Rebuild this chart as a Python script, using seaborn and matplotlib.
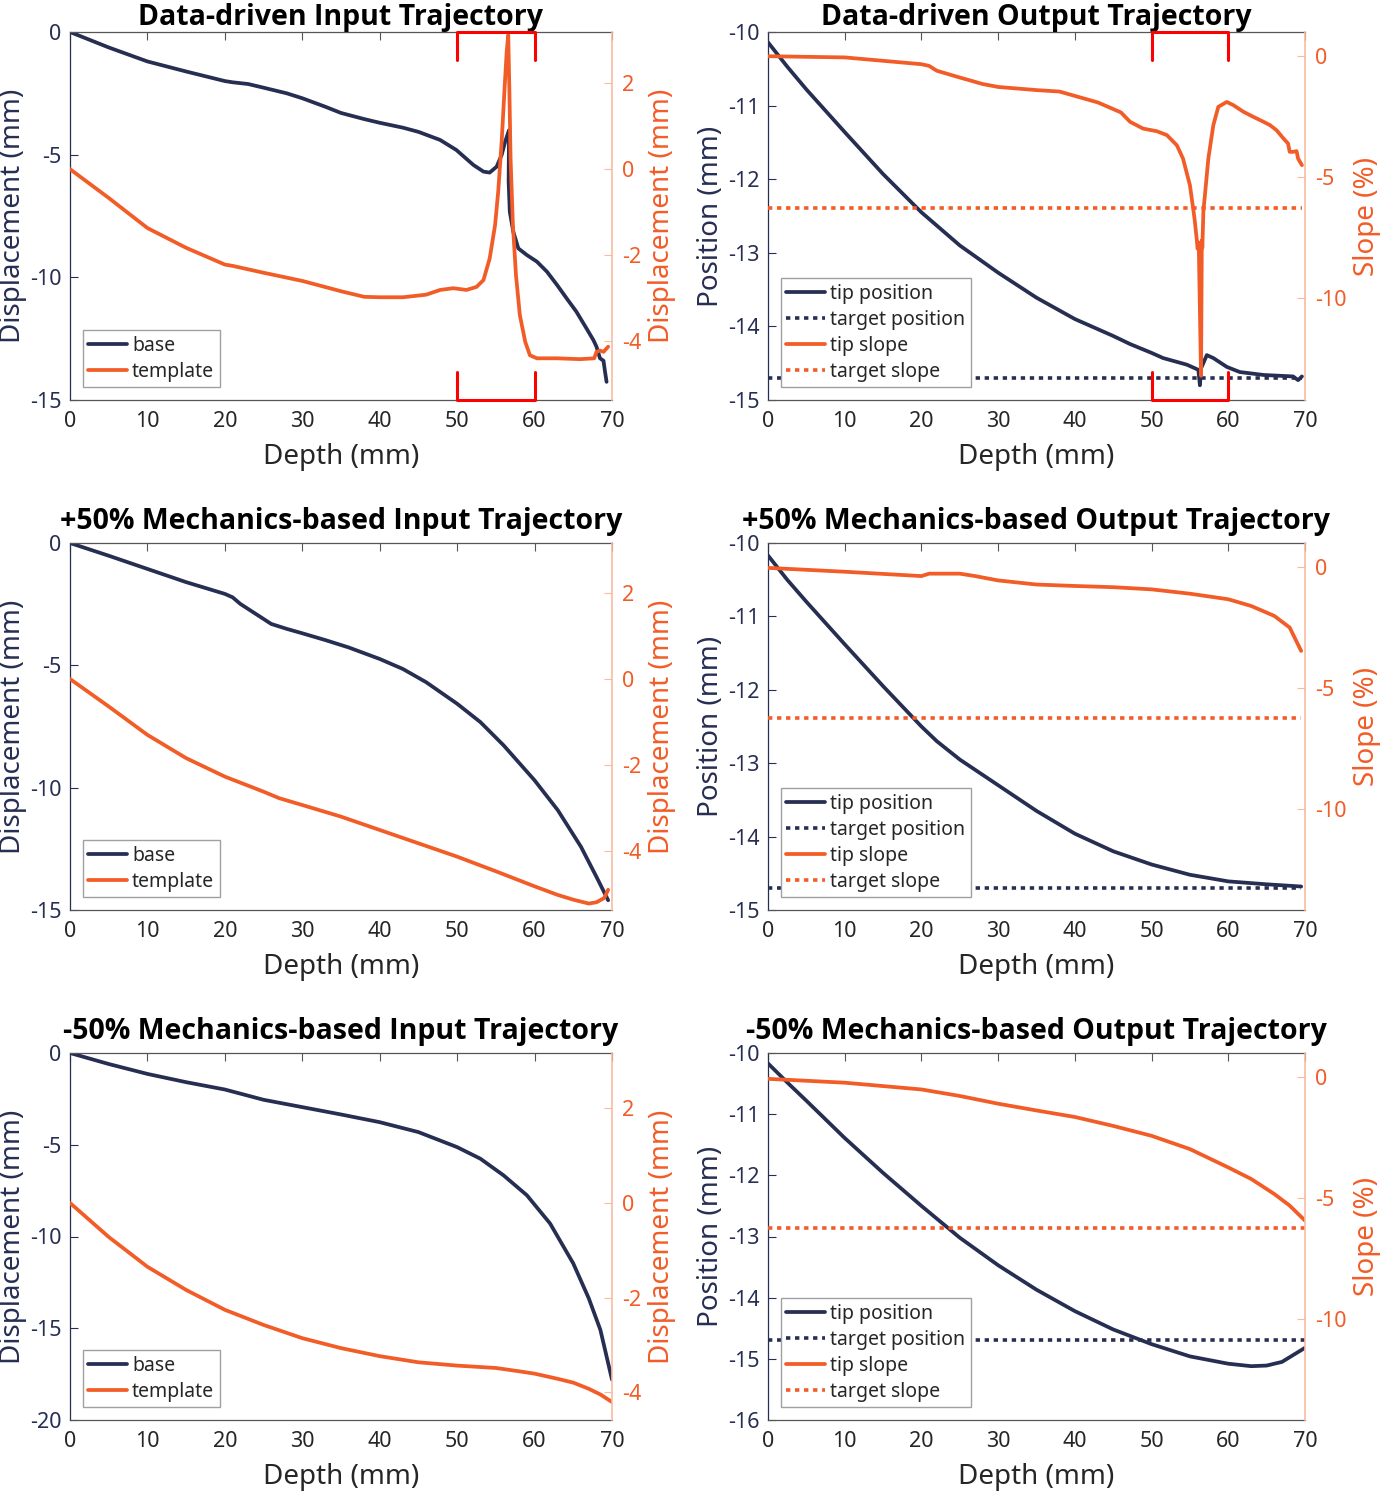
import numpy as np
import matplotlib
matplotlib.use('Agg')
import matplotlib.pyplot as plt
import matplotlib.transforms as mtransforms
from matplotlib import font_manager
import seaborn as sns

# ---- data: data-driven input trajectory ----
dd_in_base_x = [0, 5, 10, 15, 20, 21, 23, 25, 28, 30, 33, 35, 38, 40, 43, 45, 47.8, 49.9,
                52.1, 53.4, 54.2, 55.1, 55.75, 56.2, 56.7, 56.65, 56.8, 57.25, 57.9, 59.0,
                60.3, 61.6, 62.9, 64.15, 65.4, 66.7, 67.6, 68.0, 68.45, 68.9, 69.1, 69.3]
dd_in_base = [0, -0.63, -1.2, -1.61, -2.0, -2.05, -2.12, -2.27, -2.5, -2.7, -3.05, -3.3,
              -3.55, -3.7, -3.9, -4.07, -4.4, -4.81, -5.42, -5.69, -5.73, -5.49, -5.01,
              -4.47, -4.0, -6.1, -7.33, -8.14, -8.82, -9.09, -9.36, -9.77, -10.31, -10.86,
              -11.4, -12.08, -12.56, -12.83, -13.3, -13.4, -13.85, -14.26]
dd_in_tmpl_x = [0, 5, 10, 15, 20, 21, 25, 30, 35, 38, 40, 43, 46, 47.8, 49.5, 51.2, 52.5,
                53.4, 54.2, 54.9, 55.3, 55.75, 56.1, 56.4, 56.6, 56.75, 56.9, 57.2, 57.6,
                58.1, 58.8, 59.4, 60.3, 62.9, 65.9, 67.7, 68.0, 68.45, 68.9, 69.5]
dd_in_tmpl = [0, -0.67, -1.37, -1.83, -2.22, -2.25, -2.41, -2.6, -2.84, -2.97, -2.98, -2.98,
              -2.92, -2.81, -2.77, -2.81, -2.74, -2.58, -2.08, -1.3, -0.53, 0.64, 1.8, 2.73,
              3.12, 1.8, 0.25, -1.3, -2.47, -3.4, -4.02, -4.33, -4.4, -4.4, -4.42, -4.4,
              -4.25, -4.22, -4.25, -4.13]

# ---- data: data-driven output trajectory ----
dd_out_pos_x = [0, 2.5, 5, 10, 15, 20, 25, 30, 35, 40, 45, 47.2, 50, 51.5, 54.6, 56.1, 56.3,
                56.45, 57.2, 58.05, 59.8, 61.5, 64.6, 68.45, 69.1, 69.6]
dd_out_pos = [-10.14, -10.47, -10.78, -11.36, -11.93, -12.45, -12.9, -13.27, -13.61, -13.9,
              -14.13, -14.24, -14.36, -14.43, -14.52, -14.59, -14.8, -14.57, -14.39, -14.43,
              -14.55, -14.62, -14.66, -14.68, -14.73, -14.68]
dd_out_slope_x = [0, 10, 20, 21, 22, 25, 28, 30, 35, 38, 40, 43, 46, 47.2, 48.9, 50.7, 52.0,
                  53.3, 54.1, 55.0, 55.6, 55.9, 56.0, 56.15, 56.3, 56.45, 56.55, 56.62, 56.75,
                  57.4, 58.05, 58.7, 59.8, 60.65, 62.0, 63.3, 64.6, 65.45, 66.3, 67.2, 67.8,
                  68.0, 68.45, 68.9, 69.1, 69.6]
dd_out_slope = [0, -0.05, -0.33, -0.4, -0.6, -0.88, -1.15, -1.27, -1.4, -1.46, -1.64, -1.91,
                -2.32, -2.71, -2.99, -3.1, -3.26, -3.68, -4.23, -5.33, -6.71, -7.6, -7.95,
                -7.7, -10.5, -13.2, -7.6, -7.9, -6.43, -4.23, -2.85, -2.09, -1.89, -2.02,
                -2.3, -2.51, -2.71, -2.85, -3.06, -3.4, -3.61, -3.95, -3.95, -3.92, -4.23, -4.5]

# ---- data: +50% mechanics-based ----
p50_in_base_x = [0, 5, 10, 15, 20, 21, 22, 24, 26, 28, 30, 33, 36, 40, 43, 46, 50, 53, 56,
                 60, 63, 66, 68, 69.5]
p50_in_base = [0, -0.52, -1.06, -1.6, -2.08, -2.22, -2.49, -2.9, -3.31, -3.51, -3.69, -3.97,
               -4.27, -4.74, -5.15, -5.69, -6.57, -7.32, -8.27, -9.7, -10.92, -12.42, -13.65,
               -14.6]
p50_in_tmpl_x = [0, 5, 10, 15, 20, 25, 27, 30, 35, 40, 45, 50, 55, 60, 63, 65, 67, 68, 69, 69.5]
p50_in_tmpl = [0, -0.64, -1.3, -1.84, -2.27, -2.62, -2.77, -2.93, -3.2, -3.51, -3.82, -4.13,
               -4.47, -4.82, -5.02, -5.13, -5.22, -5.19, -5.09, -4.9]
p50_out_pos_x = [0, 2.5, 5, 10, 15, 20, 22, 25, 30, 35, 40, 45, 50, 55, 60, 65, 69.5]
p50_out_pos = [-10.17, -10.5, -10.8, -11.38, -11.95, -12.5, -12.7, -12.95, -13.3, -13.65,
               -13.96, -14.2, -14.38, -14.52, -14.61, -14.65, -14.68]
p50_out_slope_x = [0, 10, 20, 21, 25, 27, 30, 35, 40, 45, 50, 55, 60, 63, 66, 68, 69.5]
p50_out_slope = [-0.03, -0.19, -0.37, -0.27, -0.27, -0.37, -0.55, -0.72, -0.78, -0.83, -0.92,
                 -1.1, -1.33, -1.61, -2.02, -2.5, -3.47]

# ---- data: -50% mechanics-based ----
m50_in_base_x = [0, 5, 10, 15, 20, 25, 30, 35, 40, 45, 50, 53, 56, 59, 62, 65, 67, 68.5, 70]
m50_in_base = [0, -0.6, -1.14, -1.59, -1.99, -2.55, -2.95, -3.35, -3.77, -4.31, -5.13, -5.76,
               -6.67, -7.75, -9.29, -11.47, -13.37, -15.09, -17.8]
m50_in_tmpl_x = [0, 5, 10, 15, 20, 25, 30, 35, 40, 45, 50, 55, 58, 60, 63, 65, 67, 68.5, 70]
m50_in_tmpl = [0, -0.72, -1.35, -1.84, -2.26, -2.58, -2.86, -3.07, -3.24, -3.37, -3.44, -3.49,
               -3.56, -3.61, -3.72, -3.8, -3.93, -4.05, -4.21]
m50_out_pos_x = [0, 2.5, 5, 10, 15, 20, 25, 30, 35, 40, 45, 50, 55, 60, 63, 65, 67, 70]
m50_out_pos = [-10.17, -10.48, -10.78, -11.39, -11.96, -12.5, -13.02, -13.47, -13.87, -14.22,
               -14.52, -14.76, -14.96, -15.08, -15.12, -15.11, -15.05, -14.82]
m50_out_slope_x = [0, 10, 20, 25, 30, 35, 40, 45, 50, 55, 60, 63, 66, 68, 70]
m50_out_slope = [-0.07, -0.23, -0.51, -0.78, -1.1, -1.38, -1.65, -2.02, -2.43, -2.98, -3.74,
                 -4.22, -4.84, -5.32, -5.94]

target_position = -14.7
target_slope = -6.25
bracket_range = [50, 60]

titles = ['Data-driven Input Trajectory', 'Data-driven Output Trajectory',
          '+50% Mechanics-based Input Trajectory', '+50% Mechanics-based Output Trajectory',
          '-50% Mechanics-based Input Trajectory', '-50% Mechanics-based Output Trajectory']

NAVY = '#262e52'
ORANGE = '#f25c27'
LIGHT = '#f8bba2'
DARK = '#262626'

sns.set_theme(style='white')
plt.rcParams['font.family'] = ['Noto Sans', 'DejaVu Sans']
plt.rcParams['axes.unicode_minus'] = False

# pick a family that really has a bold face for the titles
title_family = 'DejaVu Sans'
for fam in ['Noto Sans', 'Open Sans', 'Lato', 'Roboto']:
    path = font_manager.findfont(font_manager.FontProperties(family=fam, weight='bold'),
                                 fallback_to_default=False)
    if 'bold' in path.lower():
        title_family = fam
        break

fig = plt.figure(figsize=(13.82, 14.93), dpi=100)

col_left = [70 / 1382, 768 / 1382]
col_w = [542 / 1382, 537 / 1382]
row_top = [32, 543, 1053]
row_bot = [400, 910, 1420]
title_pad = [4, 10, 10]


def make_axes(r, c):
    b = 1 - row_bot[r] / 1493
    h = (row_bot[r] - row_top[r]) / 1493
    ax = fig.add_axes([col_left[c], b, col_w[c], h])
    ax2 = ax.twinx()
    return ax, ax2


def style(ax, ax2, ylim, ylim2, yticks, yticks2, left_label, right_label, title, tpad):
    ax.set_xlim(0, 70)
    ax.set_xticks(range(0, 71, 10))
    ax.set_ylim(*ylim)
    ax.set_yticks(yticks)
    ax2.set_ylim(*ylim2)
    ax2.set_yticks(yticks2)
    ax.tick_params(axis='x', direction='in', top=True, length=6, width=0.8,
                   colors='#555555', labelcolor=DARK, labelsize=15.5, pad=8)
    ax.tick_params(axis='y', direction='in', length=6, width=0.8, colors=NAVY,
                   labelsize=15.5, pad=6)
    ax2.tick_params(axis='y', direction='in', length=6, width=0.8, colors=LIGHT,
                    labelcolor=ORANGE, labelsize=15.5, pad=7)
    ax.set_xlabel('Depth (mm)', fontsize=20, color=DARK, labelpad=8)
    ax.set_ylabel(left_label, fontsize=20, color=NAVY, labelpad=2)
    ax2.set_ylabel(right_label, fontsize=20, color=ORANGE, labelpad=5)
    ax.set_title(title, fontsize=20.5, fontweight='bold', family=title_family,
                 color='black', pad=tpad)
    for s in ['top', 'bottom']:
        ax.spines[s].set_color('#555555')
        ax.spines[s].set_linewidth(0.9)
    ax.spines['left'].set_color(NAVY)
    ax.spines['left'].set_linewidth(0.9)
    ax.spines['right'].set_visible(False)
    for s in ['top', 'bottom', 'left']:
        ax2.spines[s].set_visible(False)
    ax2.spines['right'].set_color(LIGHT)
    ax2.spines['right'].set_linewidth(1.2)
    ax.grid(False)
    ax2.grid(False)


def draw_line(ax, x, y, color, ls='-'):
    kw = dict(linewidth=2.7)
    if ls == ':':
        kw = dict(linewidth=2.6, dashes=(1.2, 1.3), dash_capstyle='butt')
    sns.lineplot(x=x, y=y, ax=ax, color=color, sort=False, estimator=None,
                 legend=False, **kw)
    return ax.lines[-1]


def legend(ax2, handles, labels):
    lg = ax2.legend(handles, labels, loc='lower left', fontsize=14, frameon=True,
                    fancybox=False, framealpha=1, edgecolor='#a0a0a0', borderpad=0.3,
                    labelspacing=0.3, handlelength=2.0, handletextpad=0.25,
                    borderaxespad=0.65)
    lg.get_frame().set_linewidth(1.0)


def bracket(ax):
    tr = mtransforms.blended_transform_factory(ax.transData, ax.transAxes)
    x0, x1 = bracket_range
    d = 0.075
    ax.plot([x0, x0, x1, x1], [1 - d, 1, 1, 1 - d], color='#ff0000', lw=2.2,
            transform=tr, clip_on=False, zorder=10)
    ax.plot([x0, x0, x1, x1], [d, 0, 0, d], color='#ff0000', lw=2.2,
            transform=tr, clip_on=False, zorder=10)


inputs = [(dd_in_base_x, dd_in_base, dd_in_tmpl_x, dd_in_tmpl, (-15, 0), (-5.37, 3.19),
           [-15, -10, -5, 0]),
          (p50_in_base_x, p50_in_base, p50_in_tmpl_x, p50_in_tmpl, (-15, 0), (-5.37, 3.16),
           [-15, -10, -5, 0]),
          (m50_in_base_x, m50_in_base, m50_in_tmpl_x, m50_in_tmpl, (-20, 0), (-4.59, 3.17),
           [-20, -15, -10, -5, 0])]
outputs = [(dd_out_pos_x, dd_out_pos, dd_out_slope_x, dd_out_slope, (-15, -10),
            [-15, -14, -13, -12, -11, -10]),
           (p50_out_pos_x, p50_out_pos, p50_out_slope_x, p50_out_slope, (-15, -10),
            [-15, -14, -13, -12, -11, -10]),
           (m50_out_pos_x, m50_out_pos, m50_out_slope_x, m50_out_slope, (-16, -10),
            [-16, -15, -14, -13, -12, -11, -10])]

for r in range(3):
    # input trajectory panel
    bx, by, tx, ty, ylim, ylim2, yt = inputs[r]
    ax, ax2 = make_axes(r, 0)
    h1 = draw_line(ax, bx, by, NAVY)
    h2 = draw_line(ax2, tx, ty, ORANGE)
    style(ax, ax2, ylim, ylim2, yt, [-4, -2, 0, 2], 'Displacement (mm)',
          'Displacement (mm)', titles[2 * r], title_pad[r])
    legend(ax2, [h1, h2], ['base', 'template'])
    if r == 0:
        bracket(ax2)

    # output trajectory panel
    px, py, sx, sy, ylim, yt = outputs[r]
    ax, ax2 = make_axes(r, 1)
    h1 = draw_line(ax, px, py, NAVY)
    h2 = draw_line(ax, [px[0], px[-1]], [target_position, target_position], NAVY, ':')
    h3 = draw_line(ax2, sx, sy, ORANGE)
    h4 = draw_line(ax2, [sx[0], sx[-1]], [target_slope, target_slope], ORANGE, ':')
    style(ax, ax2, ylim, (-14.2, 1.0), yt, [-10, -5, 0], 'Position (mm)', 'Slope (%)',
          titles[2 * r + 1], title_pad[r])
    legend(ax2, [h1, h2, h3, h4], ['tip position', 'target position', 'tip slope',
                                   'target slope'])
    if r == 0:
        bracket(ax2)

fig.savefig('out.png', dpi=100)
